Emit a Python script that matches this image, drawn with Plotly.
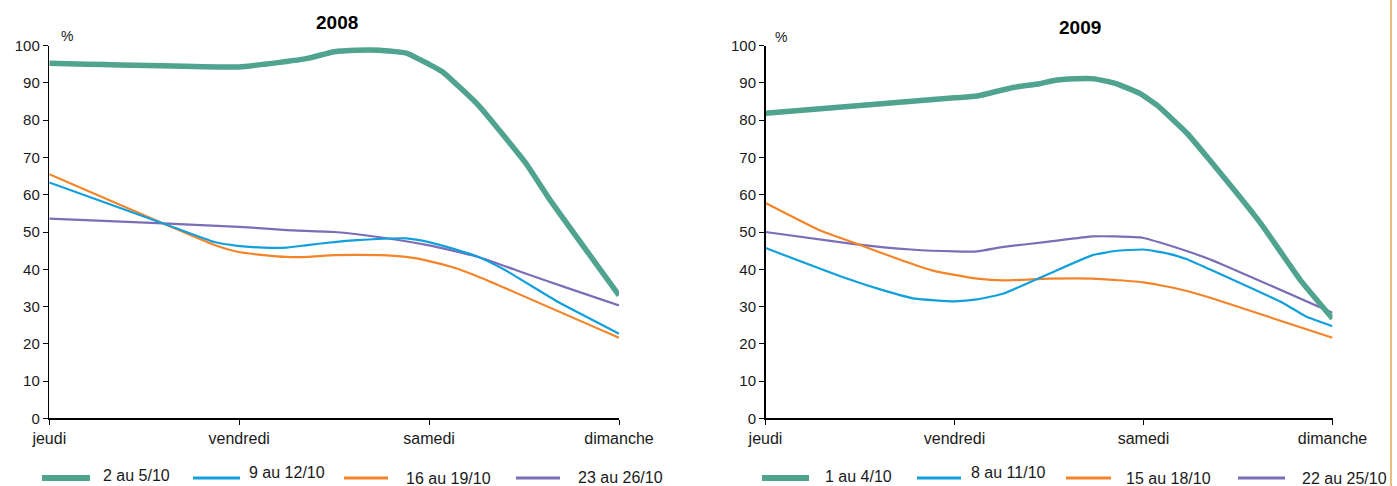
import plotly.graph_objects as go

W, H = 1397, 486

days = ["jeudi", "vendredi", "samedi", "dimanche"]
day_pos = [0, 1, 2, 3]

# 2008 — time position (days since Thursday) and share (%)
t08_a = [0, 1.0, 1.13, 1.36, 1.5, 1.62, 1.74, 1.88, 2.0, 2.07, 2.26, 2.51, 2.63, 3.0]
v08_a = [95.3, 94.3, 95.0, 96.6, 98.4, 98.8, 98.8, 98.0, 95.0, 93.0, 84.0, 68.4, 59.1, 33.0]
t08_b = [0, 0.6, 0.87, 0.99, 1.13, 1.25, 1.36, 1.5, 1.62, 1.88, 2.0, 2.12, 2.26, 2.4, 2.68, 3.0]
v08_b = [63.3, 52.3, 47.3, 46.3, 45.8, 45.8, 46.5, 47.3, 47.8, 48.3, 47.3, 45.6, 43.3, 39.8, 31.2, 22.7]
t08_c = [0, 0.6, 0.87, 0.99, 1.13, 1.25, 1.36, 1.5, 1.74, 1.88, 2.0, 2.12, 2.26, 3.0]
v08_c = [65.5, 52.3, 46.5, 44.7, 43.8, 43.3, 43.3, 43.8, 43.8, 43.3, 42.2, 40.6, 38.0, 21.6]
t08_d = [0, 0.6, 1.0, 1.25, 1.5, 1.74, 2.0, 2.26, 2.5, 2.75, 3.0]
v08_d = [53.6, 52.3, 51.4, 50.5, 50.0, 48.6, 46.4, 43.3, 39.0, 34.6, 30.3]

# 2009
t09_a = [0, 1.0, 1.12, 1.31, 1.45, 1.52, 1.64, 1.74, 1.85, 1.98, 2.07, 2.23, 2.35, 2.62, 2.83, 3.0]
v09_a = [81.9, 86.0, 86.5, 88.8, 89.8, 90.6, 91.1, 91.1, 89.9, 87.2, 84.1, 76.5, 69.3, 52.3, 37.1, 26.8]
t09_b = [0, 0.43, 0.62, 0.79, 1.0, 1.12, 1.26, 1.5, 1.73, 1.85, 2.0, 2.13, 2.23, 2.35, 2.74, 2.86, 3.0]
v09_b = [45.7, 37.5, 34.4, 32.1, 31.4, 31.9, 33.5, 38.8, 43.8, 44.9, 45.3, 44.2, 42.7, 40.0, 30.9, 27.3, 24.7]
t09_c = [0, 0.29, 0.48, 0.72, 0.88, 1.0, 1.12, 1.26, 1.5, 1.73, 2.0, 2.13, 2.25, 2.37, 3.0]
v09_c = [57.8, 50.4, 46.9, 42.4, 39.7, 38.5, 37.5, 37.0, 37.5, 37.5, 36.5, 35.3, 33.9, 32.1, 21.6]
t09_d = [0, 0.45, 0.77, 1.0, 1.12, 1.26, 1.5, 1.73, 1.85, 2.0, 2.13, 2.35, 3.0]
v09_d = [50.0, 46.9, 45.3, 44.8, 44.8, 46.0, 47.4, 48.8, 48.8, 48.4, 46.5, 42.7, 28.3]

names_2008 = ["2 au 5/10", "9 au 12/10", "16 au 19/10", "23 au 26/10"]
names_2009 = ["1 au 4/10", "8 au 11/10", "15 au 18/10", "22 au 25/10"]
titles = ["2008", "2009"]

colors = ["#4FA38F", "#12A0DC", "#F4842A", "#7D6CB6"]
widths = [5.5, 2.2, 2.2, 2.2]

FONT = "Liberation Sans, Arial, sans-serif"
TXT = "#1a1a1a"

fig = go.Figure()

series08 = [(t08_a, v08_a), (t08_b, v08_b), (t08_c, v08_c), (t08_d, v08_d)]
series09 = [(t09_a, v09_a), (t09_b, v09_b), (t09_c, v09_c), (t09_d, v09_d)]

order = [3, 2, 1, 0]
for axis_x, axis_y, series, names in [("x", "y", series08, names_2008),
                                      ("x2", "y2", series09, names_2009)]:
    for i in order:
        t, v = series[i]
        fig.add_trace(go.Scatter(x=t, y=v, mode="lines", name=names[i],
                                 line=dict(color=colors[i], width=widths[i],
                                           shape="spline", smoothing=0.4),
                                 xaxis=axis_x, yaxis=axis_y, showlegend=False,
                                 hoverinfo="skip"))

def px(x):
    return x / W

def py(y):
    return 1 - y / H

ydom = [py(418.3), py(45.7)]
xaxis_common = dict(range=[0, 3], tickvals=day_pos, ticktext=days, showline=True,
                    linecolor="black", linewidth=1.5, ticks="outside", ticklen=5,
                    tickwidth=1, tickcolor="black", showgrid=False, zeroline=False,
                    tickfont=dict(family=FONT, size=16, color=TXT), fixedrange=True,
                    automargin=False)
yaxis_common = dict(range=[0, 100], dtick=10, showline=True, linecolor="black",
                    linewidth=1.5, ticks="outside", ticklen=5, tickwidth=1,
                    tickcolor="black", showgrid=False, zeroline=False,
                    tickfont=dict(family=FONT, size=15, color=TXT), fixedrange=True,
                    automargin=False)

fig.update_layout(
    width=W, height=H,
    margin=dict(l=0, r=0, t=0, b=0),
    paper_bgcolor="white", plot_bgcolor="white",
    xaxis=dict(domain=[px(49.3), px(619)], anchor="y", **xaxis_common),
    yaxis=dict(domain=ydom, anchor="x", **yaxis_common),
    xaxis2=dict(domain=[px(765.5), px(1332.5)], anchor="y2", **xaxis_common),
    yaxis2=dict(domain=ydom, anchor="x2", **yaxis_common),
)

ann = []
shapes = []

def label(cx, cy, text, size, color=TXT, xanchor="center"):
    ann.append(dict(x=px(cx), y=py(cy), text=text, showarrow=False,
                    xanchor=xanchor, yanchor="middle", xref="paper", yref="paper",
                    font=dict(family=FONT, size=size, color=color)))

label(337, 22, "<b>2008</b>", 19, "black")
label(1080, 28, "<b>2009</b>", 19, "black")
label(67, 36, "%", 14)
label(781, 37, "%", 14)

leg08 = [(42, 90, 101, 475), (193, 240, 247, 472), (344, 388, 404, 478), (516, 560, 576, 477)]
leg09 = [(762, 809, 823, 476), (917, 961, 969, 472), (1066, 1111, 1124, 478), (1238, 1285, 1300, 478)]
for legs, names in [(leg08, names_2008), (leg09, names_2009)]:
    for i, (x0, x1, tx, ty) in enumerate(legs):
        shapes.append(dict(type="line", xref="paper", yref="paper",
                           x0=px(x0), x1=px(x1), y0=py(478), y1=py(478),
                           line=dict(color=colors[i], width=widths[i] + (0.5 if i == 0 else 1.0))))
        label(tx, ty, names[i], 16, xanchor="left")

shapes.append(dict(type="line", xref="paper", yref="paper", x0=px(1391), x1=px(1391),
                   y0=0, y1=1, line=dict(color="#E8BE7F", width=2)))

fig.update_layout(annotations=ann, shapes=shapes)

fig.write_html(
    "out.html",
    config={"displayModeBar": False, "staticPlot": True},
    post_script="document.body.style.margin='0';document.body.style.overflow='hidden';",
)
